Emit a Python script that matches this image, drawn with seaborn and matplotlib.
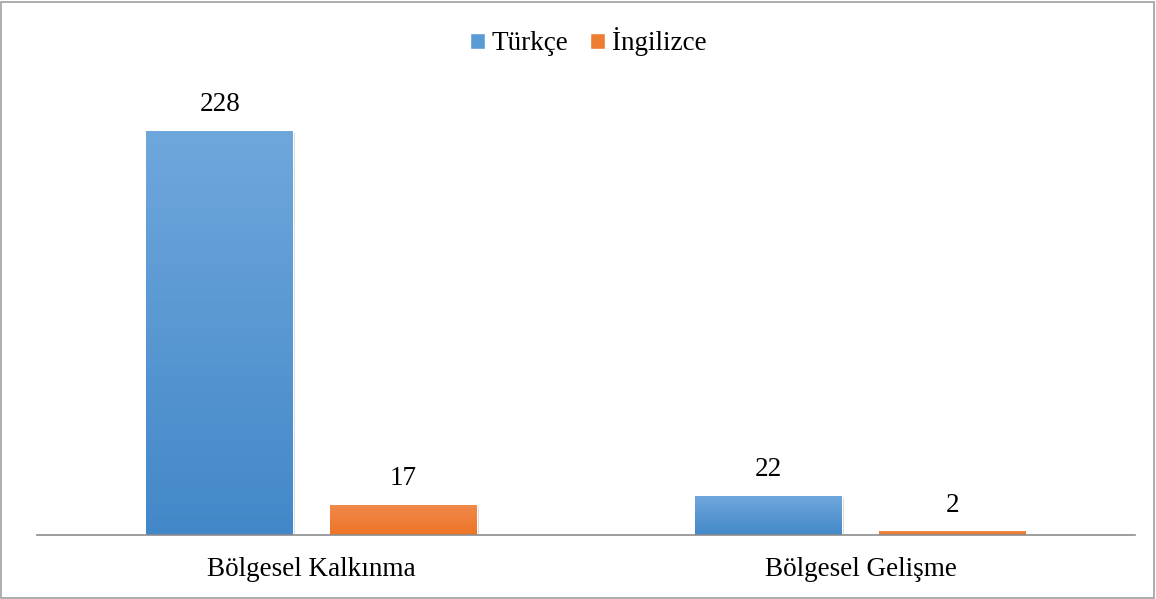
import numpy as np
import pandas as pd
import matplotlib
matplotlib.use("Agg")
import matplotlib.pyplot as plt
import matplotlib.patheffects as pe
from matplotlib.patches import Rectangle
from matplotlib.colors import LinearSegmentedColormap
import seaborn as sns

categories = ["Bölgesel Kalkınma", "Bölgesel Gelişme"]
series = ["Türkçe", "İngilizce"]
turkce = [228, 22]
ingilizce = [17, 2]

df = pd.DataFrame({
    "Kategori": categories * 2,
    "Dil": [series[0]] * 2 + [series[1]] * 2,
    "Sayı": turkce + ingilizce,
})

sns.set_theme(style="white")
plt.rcParams["font.family"] = ["Liberation Serif", "DejaVu Serif"]
plt.rcParams["text.color"] = "#000000"

W, H = 1156, 599
fig = plt.figure(figsize=(W / 100, H / 100), dpi=100)
ax = fig.add_axes([37 / W, 1 - 535 / H, (1135 - 37) / W, (535 - 80) / H])

blue = "#5B9BD5"
orange = "#ED7D31"
sns.barplot(data=df, x="Kategori", y="Sayı", hue="Dil", palette=[blue, orange],
            width=0.668, gap=0.2, ax=ax, legend=True, saturation=1)

ax.set_xlim(-0.5, 1.5)
ax.set_ylim(0, 256.8)

grads = {
    0: LinearSegmentedColormap.from_list("b", ["#4288C8", "#6FA7DC"]),
    1: LinearSegmentedColormap.from_list("o", ["#EE7326", "#F08A4B"]),
}
grad = np.linspace(0, 1, 256).reshape(-1, 1)
for i, cont in enumerate(ax.containers):
    for bar in cont:
        x0, y0 = bar.get_x(), bar.get_y()
        w, h = bar.get_width(), bar.get_height()
        bar.set_path_effects([pe.SimplePatchShadow(offset=(1.5, -1.5), shadow_rgbFace="#888888", alpha=0.35), pe.Normal()])
        im = ax.imshow(grad, cmap=grads[i], aspect="auto", origin="lower",
                       extent=[x0, x0 + w, y0, y0 + h], zorder=bar.get_zorder() + 0.1)
        im.set_clip_path(bar)
    ax.bar_label(cont, fmt="%d", padding=10, fontsize=19.5, color="#000000")

for s in ["top", "right", "left"]:
    ax.spines[s].set_visible(False)
ax.spines["bottom"].set_color("#8C8C8C")
ax.spines["bottom"].set_linewidth(1.2)
ax.set_yticks([])
ax.set_xlabel("")
ax.set_ylabel("")
ax.tick_params(axis="x", length=0, pad=16, labelsize=19.5, labelcolor="#000000")

handles, labels = ax.get_legend_handles_labels()
ax.legend_.remove()
leg = fig.legend(handles, labels, loc="center", bbox_to_anchor=(588 / W, 1 - 42 / H), ncol=2,
                 frameon=False, fontsize=19.5, handlelength=0.55, handleheight=0.55,
                 handletextpad=0.25, columnspacing=0.8)
for t in leg.get_texts():
    t.set_color("#000000")

fig.patches.append(Rectangle((1 / W, 1 / H), 1 - 3 / W, 1 - 3 / H, transform=fig.transFigure,
                             fill=False, edgecolor="#A0A0A0", linewidth=1.2))

fig.savefig("out.png", dpi=100)
